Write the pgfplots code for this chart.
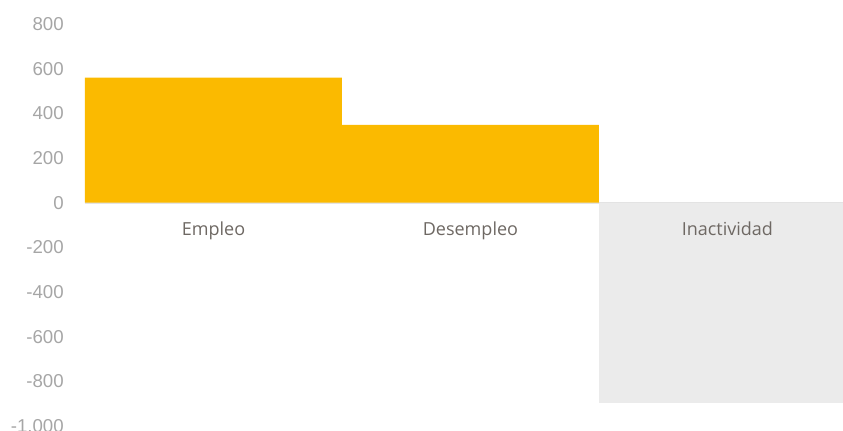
\documentclass[border=0pt]{standalone}
\usepackage{pgfplots}
\pgfplotsset{compat=1.18}
\usepackage{fontspec}
\setmainfont{Liberation Sans}
\newfontfamily\opensans{Open Sans}
\definecolor{barYellow}{HTML}{FBBA00}
\definecolor{barGrey}{HTML}{EBEBEB}
\definecolor{tickGrey}{HTML}{A6A6A6}
\definecolor{catGrey}{HTML}{6E6863}
\definecolor{zeroGrey}{HTML}{E3E3E3}
\begin{document}
\begin{tikzpicture}
\useasboundingbox (-63.75pt,-3pt) rectangle (568.5pt,319.5pt);
\begin{axis}[
  at={(0pt,0pt)}, anchor=south west,
  scale only axis,
  width=568.5pt, height=301.5pt,
  xmin=-0.5, xmax=2.45,
  ymin=-1000, ymax=800,
  ytick={-1000,-800,...,800},
  xtick={0,1,2},
  xticklabels={Empleo,Desempleo,Inactividad},
  axis x line=middle, axis y line=left,
  axis line style={draw=none,-},
  axis on top,
  major tick length=0pt,
  ybar, bar width=1, bar shift=0pt,
  x tick label style={font=\opensans\fontsize{13.5}{16}\selectfont, text=catGrey, anchor=base, yshift=-24.5pt, inner sep=0pt},
  y tick label style={font=\fontsize{14}{16}\selectfont, text=tickGrey, anchor=east, xshift=-15.75pt, inner sep=0pt},
  /pgf/number format/.cd, assume math mode=true, set thousands separator={.}, 1000 sep in fractionals,
]
\draw[zeroGrey, line width=1.5pt] (axis cs:-0.5,0) -- (axis cs:2.45,0);
\addplot[fill=barYellow, draw=none, bar width=1, bar shift=0pt] coordinates {(0,560) (1,348)};
\addplot[fill=barGrey, draw=none, bar width=1, bar shift=0pt] coordinates {(2,-895)};
\end{axis}
\end{tikzpicture}
\end{document}
